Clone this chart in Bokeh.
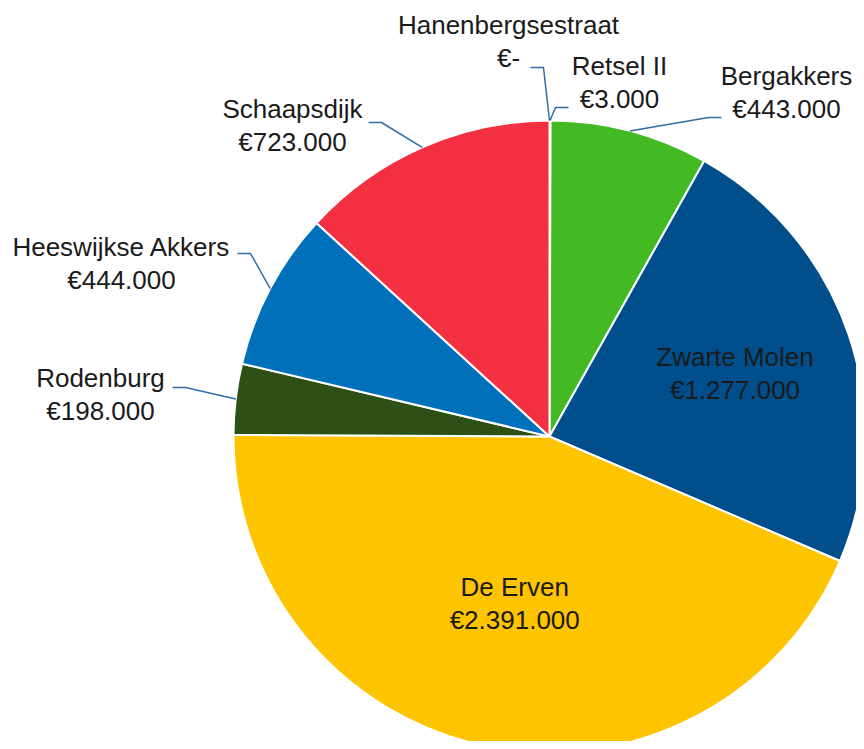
import math
from bokeh.plotting import figure
from bokeh.models import Range1d, ColumnDataSource
from bokeh.embed import file_html
from bokeh.resources import INLINE
from bokeh.core.properties import value

# ---------------- data ----------------
names = ["Retsel II", "Bergakkers", "Zwarte Molen", "De Erven", "Rodenburg",
         "Heeswijkse Akkers", "Schaapsdijk", "Hanenbergsestraat"]
amounts = [3000, 443000, 1277000, 2391000, 198000, 444000, 723000, 0]
colors = ["#A5A5A5", "#43BA24", "#004F8C", "#FFC400", "#2D5016",
          "#0070BA", "#F23041", "#7F7F7F"]

# ---------------- layout ----------------
W, H = 856, 741
def X(ix):  # picture pixel -> data x
    return ix
def Y(iy):  # picture pixel -> data y
    return H - iy

CX, CY, R = X(549), Y(436), 316
FONT = value("Liberation Sans")
FSIZE = "26px"
TCOL = "#1A1A1A"
LCOL = "#2E6DA4"

inside = {"Zwarte Molen": 0.62, "De Erven": 0.54}
# outside label: (block centre px, connector end px, elbow direction)
outside = {
    "Retsel II": ((619, 82), (568, 107), -1),
    "Bergakkers": ((786, 92), (721, 117), -1),
    "Rodenburg": ((100, 394), (172, 387), 1),
    "Heeswijkse Akkers": ((121, 263), (237, 253), 1),
    "Schaapsdijk": ((292, 125), (368, 122), 1),
    "Hanenbergsestraat": ((508, 41), (530, 67), 1),
}

def fmt(a):
    return "€-" if a == 0 else "€" + f"{a:,}".replace(",", ".")

total = float(sum(amounts))
starts, ends, mids = [], [], []
cum = 0.0
for a in amounts:
    t0 = 2 * math.pi * cum / total
    cum += a
    t1 = 2 * math.pi * cum / total
    starts.append(math.pi / 2 - t1)
    ends.append(math.pi / 2 - t0)
    mids.append((t0 + t1) / 2)

p = figure(width=W, height=H, output_backend="svg", toolbar_location=None,
           x_range=Range1d(0, W), y_range=Range1d(0, H),
           min_border=0, x_axis_location=None, y_axis_location=None)
p.grid.visible = False
p.outline_line_color = None

keep = [i for i, a in enumerate(amounts) if a > 0]
src = ColumnDataSource(dict(start=[starts[i] for i in keep],
                            end=[ends[i] for i in keep],
                            color=[colors[i] for i in keep]))
p.wedge(x=CX, y=CY, radius=R, start_angle="start", end_angle="end",
        fill_color="color", line_color="white", line_width=2, source=src)

for name, a, th in zip(names, amounts, mids):
    label = name + "\n" + fmt(a)
    if name in inside:
        r = inside[name] * R
        tx, ty = CX + r * math.sin(th), CY + r * math.cos(th)
        p.text(x=[tx], y=[ty], text=[label], text_align="center",
               text_baseline="middle", text_font=FONT, text_font_size=FSIZE,
               text_color=TCOL, text_line_height=1.1)
    elif name in outside:
        (bx, by), (ex, ey), d = outside[name]
        sx, sy = CX + R * math.sin(th), CY + R * math.cos(th)
        elx, ely = X(ex) + d * 13, Y(ey)
        p.line(x=[sx, elx, X(ex)], y=[sy, ely, Y(ey)], line_color=LCOL,
               line_width=1.5)
        p.text(x=[X(bx)], y=[Y(by)], text=[label], text_align="center",
               text_baseline="middle", text_font=FONT, text_font_size=FSIZE,
               text_color=TCOL, text_line_height=1.1)

open("out.html", "w").write(file_html(p, INLINE))
